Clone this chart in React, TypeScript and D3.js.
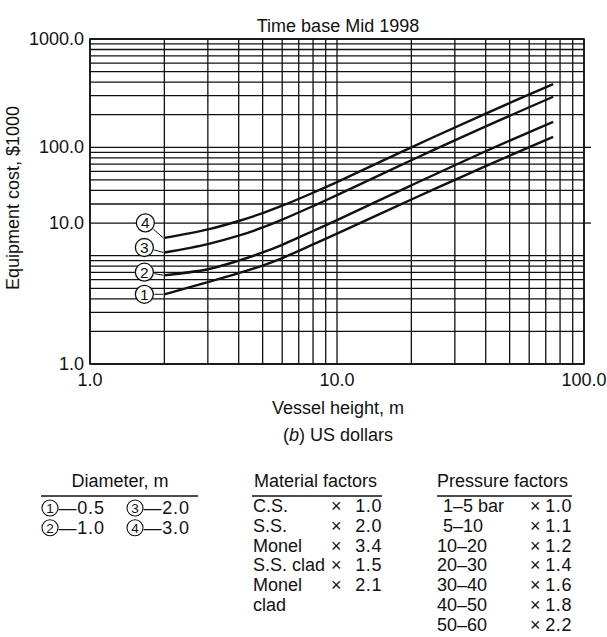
import * as d3 from "d3";

const W = 607;
const H = 637;

// vessel height (m) and cost ($1000)
const heights = [2, 3, 4, 5, 6, 8, 10, 20, 40, 75];
const cost05 = [4.4, 5.7, 6.9, 8.1, 9.5, 12.7, 16.0, 33, 67, 125];
const cost10 = [6.6, 7.5, 9.0, 10.7, 12.6, 16.9, 21.3, 44.6, 92, 172];
const cost20 = [10.7, 12.8, 15.3, 18.2, 21.5, 28.7, 36.2, 76, 156, 293];
const cost30 = [14.6, 17.5, 20.9, 24.7, 28.9, 38.1, 47.7, 100, 205, 384];
const curveKeys = ["1", "2", "3", "4"];

const xTickValues = [1, 10, 100];
const xTickLabels = ["1.0", "10.0", "100.0"];
// the printed "10.0" sits on the 20 line of the grid in the source
const yTickValues = [1, 20, 100, 1000];
const yTickLabels = ["1.0", "10.0", "100.0", "1000.0"];

const diameters = ["0.5", "1.0", "2.0", "3.0"];
const materials = ["C.S.", "S.S.", "Monel", "S.S. clad", "Monel", "clad"];
const materialFactors = ["1.0", "2.0", "3.4", "1.5", "2.1", ""];
const pressureLo = ["1", "5", "10", "20", "30", "40", "50"];
const pressureHi = ["5 bar", "10", "20", "30", "40", "50", "60"];
const pressureFactors = ["1.0", "1.1", "1.2", "1.4", "1.6", "1.8", "2.2"];

const FONT = "'Liberation Sans', Arial, Helvetica, sans-serif";
const INK = "#111";

export default function App() {
  const x = d3.scaleLog().domain([1, 100]).range([90, 584]);
  const y = d3.scaleLog().domain([1, 1000]).range([364, 39]);

  const series = [cost05, cost10, cost20, cost30].map((c) =>
    heights.map((h, i) => [h, c[i]] as [number, number])
  );
  const line = d3
    .line<[number, number]>()
    .curve(d3.curveCatmullRom.alpha(0.5))
    .x((d) => x(d[0]))
    .y((d) => y(d[1]));

  // where the circled numbers sit relative to the start of each curve
  const nudge = [
    [-20, 0],
    [-20, -3],
    [-20, -5],
    [-19, -15],
  ];

  const rowY = (i: number) => 512 + i * 19.8;

  return (
    <svg
      width={W}
      height={H}
      style={{ position: "absolute", left: 0, top: 0, background: "#fff" }}
      fontFamily={FONT}
    >
      <rect width={W} height={H} fill="#fff" />
      <text x={338} y={32} fontSize={18} textAnchor="middle" fill={INK}>
        Time base Mid 1998
      </text>

      {/* grid */}
      <g stroke={INK} strokeWidth={1.3}>
        {x.ticks().map((v) => (
          <line key={"vx" + v} x1={x(v)} x2={x(v)} y1={y(1000)} y2={y(1)} />
        ))}
        {y.ticks().map((v) => (
          <line key={"hy" + v} x1={x(1)} x2={x(100)} y1={y(v)} y2={y(v)} />
        ))}
        {yTickValues
          .filter((v) => v > 1 && v < 1000)
          .map((v) => (
            <line key={"ext" + v} x1={x(100)} x2={x(100) + 7} y1={y(v)} y2={y(v)} />
          ))}
      </g>
      <rect
        x={x(1)}
        y={y(1000)}
        width={x(100) - x(1)}
        height={y(1) - y(1000)}
        fill="none"
        stroke={INK}
        strokeWidth={1.6}
      />

      {/* ticks and axis titles */}
      {yTickValues.map((v, i) => (
        <text key={"yt" + v} x={84} y={y(v) + 6} fontSize={18} textAnchor="end" fill={INK}>
          {yTickLabels[i]}
        </text>
      ))}
      {xTickValues.map((v, i) => (
        <text key={"xt" + v} x={x(v)} y={386} fontSize={18} textAnchor="middle" fill={INK}>
          {xTickLabels[i]}
        </text>
      ))}
      <text
        transform="translate(19,198) rotate(-90)"
        fontSize={18}
        textAnchor="middle"
        fill={INK}
      >
        Equipment cost, $1000
      </text>
      <text x={338} y={414} fontSize={18} textAnchor="middle" fill={INK}>
        Vessel height, m
      </text>
      <text x={338} y={441} fontSize={18} textAnchor="middle" fill={INK}>
        (<tspan fontStyle="italic">b</tspan>) US dollars
      </text>

      {/* curves */}
      <g fill="none" stroke={INK} strokeWidth={2.4}>
        {series.map((s, i) => (
          <path key={"c" + i} d={line(s) || ""} />
        ))}
      </g>
      {series.map((s, i) => {
        const sx = x(s[0][0]);
        const sy = y(s[0][1]);
        const cx = sx + nudge[i][0];
        const cy = sy + nudge[i][1];
        const ang = Math.atan2(sy - cy, sx - cx);
        return (
          <g key={"lab" + i}>
            <line
              x1={cx + 10 * Math.cos(ang)}
              y1={cy + 10 * Math.sin(ang)}
              x2={sx - 1}
              y2={sy}
              stroke={INK}
              strokeWidth={1}
            />
            <circle cx={cx} cy={cy} r={9} fill="#fff" stroke={INK} strokeWidth={1.3} />
            <text x={cx} y={cy + 5.5} fontSize={15.5} textAnchor="middle" fill={INK}>
              {curveKeys[i]}
            </text>
          </g>
        );
      })}

      {/* diameter key */}
      <text x={120} y={487} fontSize={18} textAnchor="middle" fill={INK}>
        Diameter, m
      </text>
      <line x1={41} x2={198} y1={496} y2={496} stroke={INK} strokeWidth={1.4} />
      {diameters.map((d, i) => {
        const col = i < 2 ? 0 : 1;
        const row = i % 2;
        const cx = 50 + col * 85;
        const by = rowY(row) + 2;
        return (
          <g key={"dk" + i}>
            <circle cx={cx} cy={by - 6} r={8} fill="none" stroke={INK} strokeWidth={1.1} />
            <text x={cx} y={by - 1.2} fontSize={13.5} textAnchor="middle" fill={INK}>
              {curveKeys[i]}
            </text>
            <text x={cx + 8.5} y={by} fontSize={18} letterSpacing={0.8} fill={INK}>
              {"—" + d}
            </text>
          </g>
        );
      })}

      {/* material factors */}
      <text x={254} y={487} fontSize={18} fill={INK}>
        Material factors
      </text>
      <line x1={252} x2={382} y1={496} y2={496} stroke={INK} strokeWidth={1.4} />
      {materials.map((m, i) => (
        <g key={"mf" + i}>
          <text x={253} y={rowY(i)} fontSize={18} fill={INK}>
            {m}
          </text>
          {materialFactors[i] && (
            <g>
              <text x={331} y={rowY(i)} fontSize={18} fill={INK}>
                ×
              </text>
              <text x={382} y={rowY(i)} fontSize={18} letterSpacing={0.6} textAnchor="end" fill={INK}>
                {materialFactors[i]}
              </text>
            </g>
          )}
        </g>
      ))}

      {/* pressure factors */}
      <text x={437} y={487} fontSize={18} fill={INK}>
        Pressure factors
      </text>
      <line x1={437} x2={572} y1={496} y2={496} stroke={INK} strokeWidth={1.4} />
      {pressureLo.map((p, i) => (
        <g key={"pf" + i}>
          <text x={p.length === 1 ? 443 : 437} y={rowY(i)} fontSize={18} fill={INK}>
            {p + "–" + pressureHi[i]}
          </text>
          <text x={530} y={rowY(i)} fontSize={18} fill={INK}>
            ×
          </text>
          <text x={572} y={rowY(i)} fontSize={18} letterSpacing={0.6} textAnchor="end" fill={INK}>
            {pressureFactors[i]}
          </text>
        </g>
      ))}
    </svg>
  );
}
